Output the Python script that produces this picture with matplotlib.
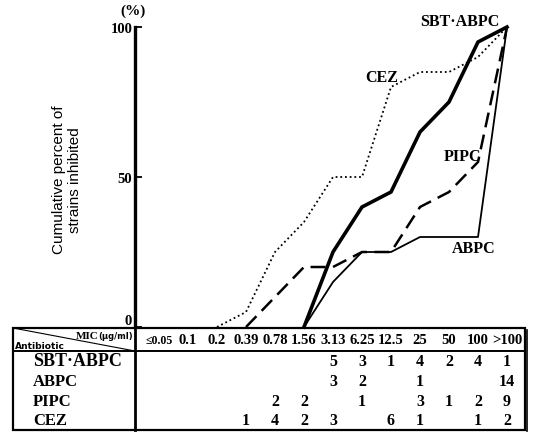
import matplotlib
matplotlib.use("Agg")
import matplotlib.pyplot as plt
from matplotlib.transforms import blended_transform_factory
from matplotlib.patches import Rectangle

# MIC columns (ug/ml)
mic_labels = ["≤0.05", "0.1", "0.2", "0.39", "0.78", "1.56", "3.13",
              "6.25", "12.5", "25", "50", "100", ">100"]

# number of strains per MIC column (0 = blank cell)
drugs = ["SBT·ABPC", "ABPC", "PIPC", "CEZ"]
counts_sbt = [0, 0, 0, 0, 0, 0, 5, 3, 1, 4, 2, 4, 1]
counts_abpc = [0, 0, 0, 0, 0, 0, 3, 2, 0, 1, 0, 0, 14]
counts_pipc = [0, 0, 0, 0, 2, 2, 0, 1, 0, 3, 1, 2, 9]
counts_cez = [0, 0, 0, 1, 4, 2, 3, 0, 6, 1, 0, 1, 2]

# cumulative percent of strains inhibited
x_sbt = [5, 6, 7, 8, 9, 10, 11, 12]
y_sbt = [0, 25, 40, 45, 65, 75, 95, 100]
x_abpc = [5, 6, 7, 8, 9, 10, 11, 12]
y_abpc = [0, 15, 25, 25, 30, 30, 30, 100]
x_pipc = [3, 4, 5, 6, 7, 8, 9, 10, 11, 12]
y_pipc = [0, 10, 20, 20, 25, 25, 40, 45, 55, 100]
x_cez = [2, 3, 4, 5, 6, 7, 8, 9, 10, 11, 12]
y_cez = [0, 5, 25, 35, 50, 50, 80, 85, 85, 90, 100]

SERIF = ["Liberation Serif", "DejaVu Serif"]
NARROW = ["Liberation Sans Narrow", "Liberation Sans", "DejaVu Sans"]

W, H = 535, 439
fig = plt.figure(figsize=(W / 100, H / 100), dpi=100)
fig.patch.set_facecolor("white")

# overlay in pixel coords for the table and free text
ov = fig.add_axes([0, 0, 1, 1], zorder=0)
ov.set_xlim(0, W)
ov.set_ylim(H, 0)
ov.axis("off")

# main plot axes
ax = fig.add_axes([135 / W, (H - 328) / H, 395 / W, 300 / H], zorder=1)
ax.patch.set_alpha(0)
ax.set_xlim((135 - 159) / 29, (530 - 159) / 29)
ax.set_ylim(0, 100)
for s in ["top", "right", "bottom"]:
    ax.spines[s].set_visible(False)
ax.spines["left"].set_linewidth(2.4)
ax.set_xticks([])
ax.set_yticks([0, 50, 100])
ax.tick_params(axis="y", direction="in", length=5, width=1.3, pad=2)
for t in ax.get_yticklabels():
    t.set_fontfamily(SERIF)
    t.set_fontweight("bold")
    t.set_fontsize(10.5)
ax.get_yticklabels()[0].set_va("bottom")

ax.plot(x_sbt, y_sbt, color="black", lw=2.6, solid_joinstyle="miter", clip_on=False)
ax.plot(x_abpc, y_abpc, color="black", lw=1.3, clip_on=False)
ax.plot(x_pipc, y_pipc, color="black", lw=1.8, linestyle=(0, (6, 3)), clip_on=False)
ax.plot(x_cez, y_cez, color="black", lw=1.3, linestyle=(0, (1, 1.6)), clip_on=False)

# curve labels
lab_kw = dict(fontfamily=SERIF, fontweight="bold", fontsize=11.5, ha="center", va="center")
ov.text(460, 22, "SBT·ABPC", **lab_kw)
ov.text(382, 78, "CEZ", **lab_kw)
ov.text(462, 157, "PIPC", **lab_kw)
ov.text(474, 249, "ABPC", **lab_kw)

ov.text(133, 11, "(%)", fontfamily=SERIF, fontweight="bold", fontsize=11, ha="center", va="center")
ov.text(67, 180, "Cumulative percent of\nstrains inhibited", rotation=90,
        fontfamily=NARROW, fontsize=11, ha="center", va="center", linespacing=1.25)

# table
top, hline, bottom = 329, 352, 431
left, div, right = 13, 135, 525
ov.add_patch(Rectangle((left, top), right - left, bottom - top, fill=False, lw=1.6, ec="black"))
ov.plot([right + 1.5, right + 1.5], [top + 2, bottom + 1.5], color="black", lw=1.2)
ov.plot([left, right], [hline, hline], color="black", lw=1.4)
ov.plot([div, div], [top, bottom], color="black", lw=2.0)
ov.plot([left, div], [top, hline], color="black", lw=0.8)
ov.text(99, 337, "MIC", fontfamily=SERIF, fontweight="bold", fontsize=8, ha="right", va="center")
ov.text(133, 337, "(μg/ml)", fontfamily=["DejaVu Sans"], fontweight="bold", fontsize=6,
        ha="right", va="center")
ov.text(15, 347, "Antibiotic", fontfamily=["DejaVu Sans"], fontweight="bold", fontsize=6.6,
        ha="left", va="center")

tr = blended_transform_factory(ax.transData, ov.transData)
for i, lab in enumerate(mic_labels):
    fs = 8.5 if i == 0 else 10.5
    ov.text(i, 341, lab, transform=tr, fontfamily=SERIF, fontweight="bold",
            fontsize=fs, ha="center", va="center")

row_y = [362, 382, 402, 421]
for name, counts, y in zip(drugs, [counts_sbt, counts_abpc, counts_pipc, counts_cez], row_y):
    ov.text(33, y, name, fontfamily=SERIF, fontweight="bold",
            fontsize=13 if name == "SBT·ABPC" else 12, ha="left", va="center")
    for i, c in enumerate(counts):
        if c:
            ov.text(i, y, str(c), transform=tr, fontfamily=SERIF, fontweight="bold",
                    fontsize=11.5, ha="center", va="center")

fig.savefig("out.png", dpi=100, facecolor="white")
